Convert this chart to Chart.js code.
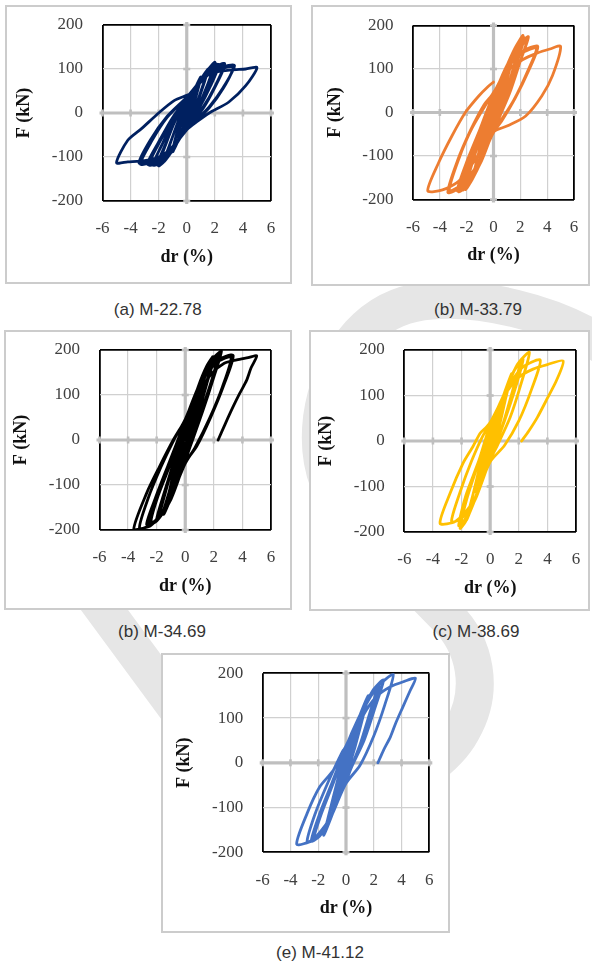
<!DOCTYPE html>
<html><head><meta charset="utf-8">
<script src="https://cdn.jsdelivr.net/npm/chart.js@4.4.1/dist/chart.umd.min.js"></script>
<style>
html,body{margin:0;padding:0;background:#fff;}
body{width:592px;height:966px;position:relative;overflow:hidden;}
.box{position:absolute;box-sizing:border-box;border:2px solid #cccccc;background:#fff;z-index:1;}
canvas{position:absolute;z-index:2;}
.cap{position:absolute;z-index:3;font-family:'Liberation Sans',Arial,sans-serif;font-size:17px;line-height:20px;height:20px;color:#333;white-space:nowrap;transform:translateX(-50%);}
svg.wm{position:absolute;left:0;top:0;z-index:0;}
</style></head><body>
<svg class="wm" width="592" height="966"><path d="M 612 352 C 560 312, 470 292, 414 303 C 366 313, 330 360, 322 418 C 316 468, 332 500, 362 530 L 447 617 C 475 645, 485 690, 462 730 C 430 790, 300 840, 215 760 L 75 570" fill="none" stroke="#e6e6e6" stroke-width="38"/></svg>
<script>
// ---- data ----
const driftTicks = [-6, -4, -2, 0, 2, 4, 6];
const forceTicks = [-200, -100, 0, 100, 200];
const xTitle = 'dr (%)';
const yTitle = 'F (kN)';
const captions = ['(a) M-22.78', '(b) M-33.79', '(b) M-34.69', '(c) M-38.69', '(e) M-41.12'];
const seriesColors = ['#002060', '#ED7D31', '#000000', '#FFC000', '#4472C4'];

// drift (%), force (kN) pairs read from the hysteresis loops
const curveA = [
[0,0],[0.15,15],[0.3,28],[0.18,8],[0,-8],[-0.15,-18],[-0.3,-30],[-0.18,-8],[0,8],
[0.3,30],[0.6,52],[0.38,18],[0.15,-2],[0,-14],[-0.3,-36],[-0.6,-56],[-0.38,-20],[-0.15,2],[0,14],
[0.5,48],[1.0,80],[0.7,42],[0.35,5],[0,-20],[-0.5,-52],[-1.0,-85],[-0.7,-45],[-0.3,-6],[0,18],
[0.5,50],[1.0,82],[0.7,44],[0.3,4],[0,-22],[-0.5,-55],[-1.0,-88],[-0.7,-46],[-0.3,-6],[0,20],
[0.7,60],[1.5,100],[1.1,58],[0.6,12],[0,-26],[-0.8,-72],[-1.5,-106],[-1.1,-62],[-0.5,-12],[0,22],
[0.8,65],[1.5,98],[1.1,55],[0.6,10],[0,-28],[-0.8,-74],[-1.6,-108],[-1.1,-62],[-0.5,-10],[0,24],
[1.0,76],[1.6,102],[2.0,115],[1.5,66],[0.8,14],[0,-30],[-1.0,-82],[-1.6,-110],[-2.0,-120],[-1.5,-72],[-0.8,-16],[0,26],
[1.0,75],[1.6,100],[2.1,112],[1.6,64],[0.9,14],[0,-32],[-1.0,-84],[-1.6,-110],[-2.1,-118],[-1.5,-70],[-0.8,-14],[0,28],
[1.1,78],[1.8,104],[2.3,110],[1.7,62],[0.9,12],[0,-32],[-1.1,-86],[-1.8,-112],[-2.4,-118],[-1.7,-68],[-0.9,-12],[0,28],
[1.2,80],[2.0,104],[2.7,112],[2.0,60],[1.2,15],[0,-35],[-1.2,-88],[-2.0,-112],[-2.7,-118],[-2.0,-70],[-1.0,-14],[0,30],
[1.3,82],[2.1,102],[2.7,108],[2.0,58],[1.2,12],[0,-36],[-1.2,-86],[-2.1,-112],[-2.8,-116],[-2.0,-66],[-1.0,-10],[0,32],
[1.4,85],[2.4,103],[3.4,108],[2.6,58],[1.6,14],[0.6,-18],[0,-38],[-1.3,-88],[-2.4,-110],[-3.3,-116],[-2.5,-64],[-1.4,-10],[0,35],
[1.5,86],[2.5,101],[3.3,104],[2.6,56],[1.6,12],[0,-38],[-1.3,-86],[-2.4,-108],[-3.4,-114],[-2.6,-62],[-1.4,-8],[0,36],
[1.2,80],[2.2,94],[3.2,98],[4.2,100],[5.0,103],[4.2,62],[3.0,25],[1.6,0],[0.8,-18],[0,-38],[-1.0,-78],[-2.0,-100],[-3.0,-108],[-4.2,-111],[-5.0,-113],[-4.2,-62],[-3.2,-35],[-2.0,0],[-0.9,28],[0,40],[0.3,44]
];
const curveB = [
[0,0],[0.25,28],[0.5,55],[0.3,24],[0.1,0],[0,-10],[-0.25,-30],[-0.5,-58],[-0.3,-26],[-0.1,0],[0,10],
[0.3,35],[0.6,62],[0.38,28],[0.15,2],[0,-12],[-0.3,-38],[-0.6,-65],[-0.38,-30],[-0.15,0],[0,12],
[0.5,60],[1.0,105],[0.7,62],[0.35,14],[0,-20],[-0.5,-64],[-1.0,-110],[-0.7,-68],[-0.35,-18],[0,20],
[0.5,62],[1.0,108],[0.7,64],[0.35,14],[0,-22],[-0.5,-66],[-1.0,-112],[-0.7,-68],[-0.35,-16],[0,22],
[0.7,84],[1.5,140],[1.1,90],[0.6,24],[0,-30],[-0.7,-90],[-1.5,-145],[-1.1,-94],[-0.6,-30],[0,28],
[0.8,90],[1.5,138],[1.1,86],[0.6,22],[0,-32],[-0.8,-96],[-1.5,-146],[-1.1,-92],[-0.6,-28],[0,30],
[0.9,100],[1.6,148],[2.2,177],[1.7,122],[1.0,44],[0,-38],[-0.9,-110],[-1.6,-155],[-2.1,-177],[-1.6,-118],[-0.8,-40],[0,35],
[0.9,102],[1.8,152],[2.3,172],[1.8,120],[1.0,42],[0,-40],[-0.9,-112],[-1.8,-162],[-2.3,-178],[-1.8,-120],[-0.9,-40],[0,36],
[1.0,104],[1.7,150],[2.1,170],[1.6,116],[0.9,40],[0,-40],[-1.0,-115],[-1.7,-158],[-2.2,-174],[-1.6,-114],[-0.8,-36],[0,38],
[1.0,105],[1.9,155],[2.6,174],[2.0,118],[1.2,44],[0,-42],[-1.0,-115],[-1.9,-166],[-2.6,-182],[-1.9,-118],[-1.0,-42],[0,40],
[1.1,108],[2.0,150],[2.5,165],[1.9,110],[1.1,40],[0,-44],[-1.1,-118],[-2.0,-168],[-2.7,-180],[-2.0,-114],[-1.0,-38],[0,42],
[1.1,105],[2.1,140],[3.3,152],[2.6,95],[1.6,32],[0.6,-20],[0,-45],[-1.2,-122],[-2.4,-170],[-3.4,-184],[-2.7,-112],[-1.7,-40],[-0.7,18],[0,45],
[1.1,104],[2.1,136],[3.2,148],[2.5,92],[1.5,28],[0,-46],[-1.2,-120],[-2.4,-166],[-3.3,-180],[-2.6,-108],[-1.6,-36],[0,46],
[1.2,100],[2.2,122],[3.2,136],[4.2,146],[5.0,152],[4.4,85],[3.6,38],[2.4,-8],[1.1,-30],[0,-45],[-1.4,-110],[-2.6,-158],[-3.8,-178],[-4.9,-180],[-4.1,-116],[-3.1,-54],[-2.1,0],[-1.1,38],[-0.4,60],[0,70]
];
const curveC = [
[0,0],[0.25,32],[0.5,60],[0.32,30],[0.12,2],[0,-12],[-0.25,-36],[-0.5,-62],[-0.32,-32],[-0.12,-2],[0,12],
[0.5,64],[1.0,115],[0.72,76],[0.35,22],[0,-20],[-0.5,-75],[-1.0,-125],[-0.7,-82],[-0.35,-26],[0,20],
[0.5,66],[1.0,112],[0.7,72],[0.35,20],[0,-22],[-0.5,-76],[-1.0,-122],[-0.7,-80],[-0.35,-24],[0,22],
[0.7,94],[1.5,160],[1.1,110],[0.6,36],[0,-30],[-0.7,-104],[-1.5,-165],[-1.1,-116],[-0.6,-42],[0,30],
[0.8,104],[1.5,158],[1.1,106],[0.6,32],[0,-34],[-0.8,-112],[-1.6,-166],[-1.1,-112],[-0.6,-38],[0,32],
[0.9,118],[1.5,164],[1.95,185],[1.5,130],[0.8,50],[0,-36],[-0.9,-120],[-1.8,-170],[-1.4,-118],[-0.8,-50],[0,36],
[0.95,120],[1.6,168],[2.0,182],[1.5,124],[0.8,46],[0,-38],[-0.9,-122],[-1.7,-168],[-2.0,-176],[-1.5,-120],[-0.8,-48],[0,38],
[1.0,124],[1.9,178],[2.3,186],[1.8,128],[1.0,52],[0,-44],[-1.0,-128],[-1.9,-176],[-2.4,-182],[-1.9,-124],[-1.0,-50],[0,40],
[1.0,125],[1.8,175],[2.53,198],[2.0,140],[1.2,62],[0,-45],[-1.0,-132],[-2.0,-180],[-2.7,-188],[-2.1,-130],[-1.2,-56],[0,42],
[1.0,122],[1.9,172],[2.4,190],[1.9,134],[1.1,56],[0,-46],[-1.1,-134],[-2.0,-178],[-2.6,-185],[-2.0,-126],[-1.1,-50],[0,44],
[1.1,130],[2.2,176],[3.35,188],[2.7,122],[1.8,52],[0.8,-14],[0,-50],[-1.2,-140],[-2.3,-186],[-3.2,-196],[-2.6,-130],[-1.7,-60],[-0.8,0],[0,46],
[1.1,128],[2.2,172],[3.2,184],[2.6,118],[1.7,48],[0.7,-16],[0,-52],[-1.2,-140],[-2.4,-190],[-3.6,-200],[-2.7,-118],[-1.8,-59],[-0.84,0],[-0.14,37],[0.1,52],
[0.9,100],[1.8,146],[2.7,170],[3.6,178],[4.4,183],[5.0,187],[4.6,160],[4.3,133],[3.8,103],[3.35,74],[2.8,36],[2.3,0]
];
const curveD = [
[0,0],[0.25,28],[0.5,55],[0.32,26],[0.12,0],[0,-10],[-0.25,-32],[-0.5,-60],[-0.32,-30],[-0.12,-2],[0,10],
[0.5,58],[1.0,105],[0.72,66],[0.36,16],[0,-20],[-0.5,-66],[-1.0,-112],[-0.7,-72],[-0.35,-20],[0,20],
[0.7,80],[1.5,148],[1.1,96],[0.6,28],[0,-30],[-0.8,-104],[-1.65,-174],[-1.2,-118],[-0.6,-40],[0,30],
[0.8,90],[1.6,150],[2.1,172],[1.6,114],[0.9,38],[0,-38],[-1.0,-124],[-1.7,-176],[-2.1,-192],[-1.6,-124],[-0.8,-46],[0,36],
[0.9,96],[1.7,156],[2.3,180],[1.8,120],[1.0,44],[0,-40],[-1.0,-126],[-1.8,-174],[-2.2,-186],[-1.7,-120],[-0.8,-44],[0,34],
[1.0,104],[1.9,168],[2.74,195],[2.2,130],[1.4,52],[0.5,-10],[0,-42],[-1.1,-130],[-2.0,-170],[-2.7,-177],[-2.1,-112],[-1.3,-44],[-0.5,12],[0,36],
[1.1,110],[2.2,160],[3.5,178],[2.9,114],[2.0,44],[1.0,-10],[0,-46],[-1.2,-134],[-2.4,-176],[-3.5,-181],[-2.8,-115],[-1.9,-49],[-1.2,-12],[-0.7,17],[-0.25,31],[0.1,46],
[1.0,100],[2.0,140],[3.0,158],[4.0,168],[5.1,176],[4.65,134],[4.0,94],[3.3,52],[2.7,22],[2.2,0]
];
const curveE = [
[0,0],[0.25,28],[0.5,55],[0.32,26],[0.12,0],[0,-10],[-0.25,-30],[-0.5,-58],[-0.32,-28],[-0.12,-2],[0,10],
[0.5,58],[1.0,105],[0.72,66],[0.36,16],[0,-20],[-0.5,-62],[-1.0,-105],[-0.7,-68],[-0.35,-18],[0,20],
[0.7,82],[1.6,150],[1.2,100],[0.6,30],[0,-30],[-0.8,-100],[-1.6,-162],[-1.2,-112],[-0.6,-38],[0,30],
[0.9,95],[1.7,145],[2.2,163],[1.7,110],[1.0,40],[0,-38],[-1.0,-112],[-1.8,-160],[-2.35,-173],[-1.8,-116],[-0.9,-44],[0,36],
[0.9,100],[1.8,152],[2.4,172],[1.9,116],[1.1,44],[0,-40],[-1.0,-116],[-1.9,-164],[-2.5,-175],[-1.9,-114],[-1.0,-44],[0,36],
[1.0,104],[1.9,160],[2.7,185],[2.1,124],[1.3,50],[0.4,-10],[0,-42],[-1.1,-120],[-2.0,-165],[-2.8,-177],[-2.2,-112],[-1.3,-44],[-0.5,10],[0,38],
[1.1,110],[2.2,168],[3.4,198],[2.8,130],[2.0,60],[1.0,-6],[0,-46],[-1.2,-126],[-2.4,-172],[-3.55,-182],[-2.8,-113],[-1.9,-54],[-0.9,-16],[-0.2,28],[0.3,43],
[1.2,104],[2.2,148],[3.2,170],[4.2,182],[5.0,189],[4.6,160],[4.1,125],[3.6,90],[3.2,58],[2.7,28],[2.3,0]
];
const curves = [curveA, curveB, curveC, curveD, curveE];

// ---- layout (page pixels) ----
const panels = [
  {box:[5,5,292,284],   plot:[102.5,25,271,201],     cap:[157.8,310]},
  {box:[311,5,590,286], plot:[413,25.5,574,199.5],   cap:[478,310]},
  {box:[4,330,292,610], plot:[99.5,350,271,530],     cap:[162,632]},
  {box:[309,330,590,611], plot:[404.3,350,576,532],  cap:[476,632]},
  {box:[161,653,450,933], plot:[262.7,673.3,429.3,852.3], cap:[320,953]}
];

Chart.defaults.font.family = "'Liberation Serif','Times New Roman',serif";

const zeroAxes = {
  id: 'zeroAxes',
  beforeDatasetsDraw(chart) {
    const {ctx, chartArea: a, scales: {x, y}} = chart;
    const x0 = x.getPixelForValue(0), y0 = y.getPixelForValue(0);
    ctx.save();
    ctx.strokeStyle = '#bfbfbf';
    ctx.lineWidth = 3.2;
    ctx.beginPath(); ctx.moveTo(a.left - 3, y0); ctx.lineTo(a.right + 3, y0); ctx.stroke();
    ctx.beginPath(); ctx.moveTo(x0, a.top - 3); ctx.lineTo(x0, a.bottom + 3); ctx.stroke();
    ctx.lineWidth = 2.6;
    driftTicks.forEach(v => { const px = x.getPixelForValue(v); ctx.beginPath(); ctx.moveTo(px, y0 - 3.5); ctx.lineTo(px, y0 + 3.5); ctx.stroke(); });
    forceTicks.forEach(v => { const py = y.getPixelForValue(v); ctx.beginPath(); ctx.moveTo(x0 - 3.5, py); ctx.lineTo(x0 + 3.5, py); ctx.stroke(); });
    ctx.restore();
  }
};

function edgeColor(min, max) { return c => (c.tick && (c.tick.value === min || c.tick.value === max)) ? '#000' : '#d0d0d0'; }
function edgeWidth(min, max) { return c => (c.tick && (c.tick.value === min || c.tick.value === max)) ? 1.8 : 1.2; }

panels.forEach((p, i) => {
  const [bL, bT, bR, bB] = p.box, [pL, pT, pR, pB] = p.plot;
  const box = document.createElement('div');
  box.className = 'box';
  Object.assign(box.style, {left: bL + 'px', top: bT + 'px', width: (bR - bL) + 'px', height: (bB - bT) + 'px'});
  document.body.appendChild(box);
  const cL = bL + 2, cT = bT + 2, cW = Math.round(bR - bL - 4), cH = Math.round(bB - bT - 4);
  const cv = document.createElement('canvas');
  cv.width = cW; cv.height = cH;
  Object.assign(cv.style, {left: cL + 'px', top: cT + 'px', width: cW + 'px', height: cH + 'px'});
  document.body.appendChild(cv);
  const halfT = 18 * 1.2 / 2;
  new Chart(cv, {
    type: 'scatter',
    data: {datasets: [{
      data: curves[i].map(([x, y]) => ({x, y})),
      showLine: true, borderColor: seriesColors[i], backgroundColor: seriesColors[i],
      borderWidth: 2.8, pointRadius: 0, tension: 0.25, fill: false,
      borderJoinStyle: 'round', borderCapStyle: 'round'
    }]},
    options: {
      responsive: false, animation: false, devicePixelRatio: 1, events: [],
      layout: {padding: {left: 0, top: pT - cT, right: (cL + cW) - pR, bottom: 0}},
      plugins: {legend: {display: false}, tooltip: {enabled: false}},
      scales: {
        x: {
          type: 'linear', position: 'bottom', min: driftTicks[0], max: driftTicks[driftTicks.length - 1],
          afterBuildTicks: s => { s.ticks = driftTicks.map(v => ({value: v})); },
          afterFit: s => { s.height = (cT + cH) - pB; },
          ticks: {autoSkip: false, maxRotation: 0, padding: 0.8, color: '#404040', font: {size: 17}, callback: v => String(v)},
          grid: {drawTicks: true, tickLength: 17, tickColor: 'rgba(0,0,0,0)', color: edgeColor(-6, 6), lineWidth: edgeWidth(-6, 6)},
          border: {display: false},
          title: {display: true, text: xTitle, color: '#111', font: {size: 18, weight: 'bold'},
                  padding: {top: 0, bottom: (cT + cH) - (pB + 56) - halfT}}
        },
        y: {
          type: 'linear', position: 'left', min: forceTicks[0], max: forceTicks[forceTicks.length - 1],
          afterBuildTicks: s => { s.ticks = forceTicks.map(v => ({value: v})); },
          afterFit: s => { s.width = pL - cL; },
          ticks: {autoSkip: false, padding: 0.5, color: '#404040', font: {size: 17}, callback: v => String(v)},
          grid: {drawTicks: true, tickLength: 19, tickColor: 'rgba(0,0,0,0)', color: edgeColor(-200, 200), lineWidth: edgeWidth(-200, 200)},
          border: {display: false},
          title: {display: true, text: yTitle, color: '#111', font: {size: 18, weight: 'bold'},
                  padding: {top: (pL - 78) - cL - halfT, bottom: 0}}
        }
      }
    },
    plugins: [zeroAxes]
  });
  const cap = document.createElement('div');
  cap.className = 'cap';
  cap.textContent = captions[i];
  Object.assign(cap.style, {left: p.cap[0] + 'px', top: (p.cap[1] - 9.8) + 'px'});
  document.body.appendChild(cap);
});
</script>
</body></html>
